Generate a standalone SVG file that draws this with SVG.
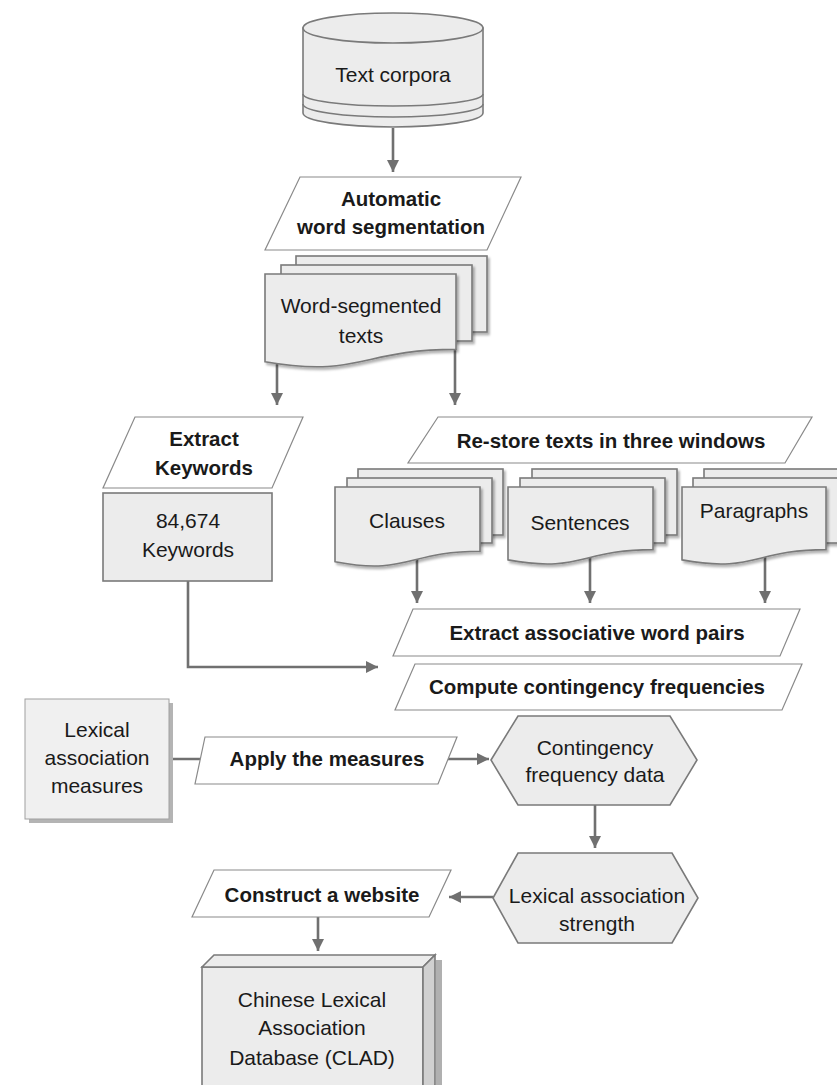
<svg xmlns="http://www.w3.org/2000/svg" width="837" height="1085" viewBox="0 0 837 1085">
<style>
text{font-family:"Liberation Sans",Arial,sans-serif;fill:#1a1a1a;text-anchor:middle}
.r{font-size:21px}
.b{font-size:20.5px;font-weight:bold}
.g{fill:#ececec;stroke:#7a7a7a;stroke-width:1.6}
.p{fill:#ffffff;stroke:#8a8a8a;stroke-width:1.2}
.c{fill:none;stroke:#707070;stroke-width:2.6}
</style>
<defs>
<marker id="ah" viewBox="0 0 10 10" refX="10" refY="5" markerWidth="13" markerHeight="12" markerUnits="userSpaceOnUse" orient="auto">
<path d="M0,0 L10,5 L0,10 Z" fill="#707070"/>
</marker>
<filter id="sh" x="-10%" y="-10%" width="130%" height="130%">
<feDropShadow dx="2" dy="2.5" stdDeviation="1.2" flood-color="#000" flood-opacity="0.3"/>
</filter>
</defs>

<g id="connectors">
<line class="c" x1="393" y1="128" x2="393" y2="172" marker-end="url(#ah)"/>
<line class="c" x1="277" y1="360" x2="277" y2="405" marker-end="url(#ah)"/>
<line class="c" x1="455" y1="349" x2="455" y2="405" marker-end="url(#ah)"/>
<line class="c" x1="417" y1="555" x2="417" y2="603" marker-end="url(#ah)"/>
<line class="c" x1="590" y1="555" x2="590" y2="603" marker-end="url(#ah)"/>
<line class="c" x1="765" y1="555" x2="765" y2="603" marker-end="url(#ah)"/>
<path class="c" d="M188,581 V667 H378" marker-end="url(#ah)"/>
<line class="c" x1="169" y1="759" x2="205" y2="759"/>
<line class="c" x1="440" y1="759" x2="489" y2="759" marker-end="url(#ah)"/>
<line class="c" x1="595" y1="805" x2="595" y2="848" marker-end="url(#ah)"/>
<line class="c" x1="493" y1="897" x2="449" y2="897" marker-end="url(#ah)"/>
<line class="c" x1="318" y1="917" x2="318" y2="951" marker-end="url(#ah)"/>
</g>

<g id="text-corpora">
<path class="g" d="M303,28 V113 A90,14 0 0 0 483,113 V28 Z"/>
<ellipse class="g" cx="393" cy="28" rx="90" ry="15"/>
<path d="M303,94 A90,12 0 0 0 483,94 M303,104 A90,13 0 0 0 483,104" fill="none" stroke="#7a7a7a" stroke-width="1.6"/>
<text class="r" x="393" y="82">Text corpora</text>
</g>

<g id="auto-seg">
<polygon class="p" points="300,177 521,177 487,250 265,250"/>
<text class="b" x="391" y="206">Automatic</text>
<text class="b" x="391" y="234">word segmentation</text>
</g>

<g id="word-segmented">
<rect class="g" x="296" y="256" width="191" height="76" filter="url(#sh)"/>
<rect class="g" x="281" y="265" width="191" height="76" filter="url(#sh)"/>
<path class="g" filter="url(#sh)" d="M265,274 H456 V349.4 C360.5,349.4 360.5,378.1 265,361.8 Z"/>
<text class="r" x="361" y="313">Word-segmented</text>
<text class="r" x="361" y="343">texts</text>
</g>

<g id="extract-keywords">
<polygon class="p" points="135,417 303,417 272,488 103,488"/>
<text class="b" x="204" y="446">Extract</text>
<text class="b" x="204" y="475">Keywords</text>
</g>

<g id="keywords">
<rect class="g" x="103" y="493" width="169" height="88"/>
<text class="r" x="188" y="528">84,674</text>
<text class="r" x="188" y="557">Keywords</text>
</g>

<g id="restore">
<polygon class="p" points="438,417 812,417 785,463 408,463"/>
<text class="b" x="611" y="448">Re-store texts in three windows</text>
</g>

<g id="clauses">
<rect class="g" x="358" y="469" width="145" height="66" filter="url(#sh)"/>
<rect class="g" x="347" y="478" width="145" height="65" filter="url(#sh)"/>
<path class="g" filter="url(#sh)" d="M335,487 H480 V551.2 C407.5,551.2 407.5,575.6 335,561.7 Z"/>
<text class="r" x="407" y="528">Clauses</text>
</g>

<g id="sentences">
<rect class="g" x="532" y="469" width="145" height="66" filter="url(#sh)"/>
<rect class="g" x="520" y="478" width="145" height="65" filter="url(#sh)"/>
<path class="g" filter="url(#sh)" d="M508,487 H653 V549.6 C580.5,549.6 580.5,573.3 508,559.9 Z"/>
<text class="r" x="580" y="530">Sentences</text>
</g>

<g id="paragraphs">
<rect class="g" x="704" y="469" width="145" height="66" filter="url(#sh)"/>
<rect class="g" x="693" y="478" width="145" height="65" filter="url(#sh)"/>
<path class="g" filter="url(#sh)" d="M682,487 H826 V549.6 C754,549.6 754,573.3 682,559.9 Z"/>
<text class="r" x="754" y="518">Paragraphs</text>
</g>

<g id="extract-pairs">
<polygon class="p" points="413,609 800,609 780,656 393,656"/>
<text class="b" x="597" y="640">Extract associative word pairs</text>
</g>

<g id="compute">
<polygon class="p" points="415,664 802,664 782,710 395,710"/>
<text class="b" x="597" y="694">Compute contingency frequencies</text>
</g>

<g id="measures">
<rect x="29" y="703" width="144" height="120" fill="#b4b4b4"/>
<rect x="25" y="699" width="144" height="120" fill="#f0f0f0" stroke="#a0a0a0" stroke-width="1"/>
<text class="r" x="97" y="737">Lexical</text>
<text class="r" x="97" y="765">association</text>
<text class="r" x="97" y="793">measures</text>
</g>

<g id="apply">
<polygon class="p" points="205,737 457,737 438,784 195,784"/>
<text class="b" x="327" y="766">Apply the measures</text>
</g>

<g id="contingency-data">
<polygon class="g" points="491,760 518,716 670,716 697,760 670,805 518,805"/>
<text class="r" x="595" y="755">Contingency</text>
<text class="r" x="595" y="782">frequency data</text>
</g>

<g id="strength">
<polygon class="g" points="493,898 518,853 672,853 698,898 672,943 518,943"/>
<text class="r" x="597" y="903">Lexical association</text>
<text class="r" x="597" y="931">strength</text>
</g>

<g id="website">
<polygon class="p" points="214,870 451,870 429,917 192,917"/>
<text class="b" x="322" y="902">Construct a website</text>
</g>

<g id="clad">
<rect x="436" y="960" width="6" height="130" fill="#b0b0b0"/>
<rect class="g" x="202" y="967" width="221" height="130"/>
<polygon class="g" points="202,967 214,955 435,955 423,967"/>
<polygon points="423,967 435,955 435,1085 423,1097" fill="#d0d0d0" stroke="#7a7a7a" stroke-width="1.6"/>
<text class="r" x="312" y="1007">Chinese Lexical</text>
<text class="r" x="312" y="1035">Association</text>
<text class="r" x="312" y="1065">Database (CLAD)</text>
</g>
</svg>
